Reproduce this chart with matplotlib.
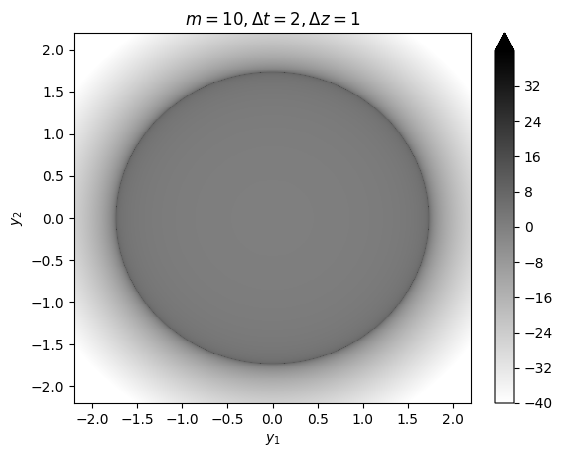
import numpy as np
import matplotlib
matplotlib.use('Agg')
import matplotlib.pyplot as plt

# parametros del titulo
m = 10
dt = 2
dz = 1

y_lim = 2.2
n_grid = 401
z_min = -40
z_max = 40
cbar_ticks = [-40, -32, -24, -16, -8, 0, 8, 16, 24, 32]
axis_ticks = [-2.0, -1.5, -1.0, -0.5, 0.0, 0.5, 1.0, 1.5, 2.0]


# pesos de la regla del trapecio
def trapz_weights(t):
    w = np.full(t.size, t[1] - t[0])
    w[0] *= 0.5
    w[-1] *= 0.5
    return w


# K_1(x) por su representacion integral
def bessel_k1(x):
    t = np.linspace(0, 14, 561)
    out = np.zeros_like(x)
    for ti, wi in zip(t, trapz_weights(t)):
        out += wi * np.cosh(ti) * np.exp(-x * np.cosh(ti))
    return out


# |H_1(x)|^2 = J_1^2 + Y_1^2
def hankel1_abs2(x):
    th = np.linspace(0, np.pi, 121)
    j1 = np.zeros_like(x)
    ya = np.zeros_like(x)
    for ti, wi in zip(th, trapz_weights(th)):
        j1 += wi * np.cos(ti - x * np.sin(ti))
        ya += wi * np.sin(x * np.sin(ti) - ti)
    t = np.linspace(0, 16, 641)
    yb = np.zeros_like(x)
    for ti, wi in zip(t, trapz_weights(t)):
        yb += wi * 2 * np.sinh(ti) * np.exp(-x * np.sinh(ti))
    j1 /= np.pi
    y1 = (ya - yb) / np.pi
    return j1 ** 2 + y1 ** 2


grid = np.linspace(-y_lim, y_lim, n_grid)
G1, G2 = np.meshgrid(grid, grid)
sigma = dt ** 2 - dz ** 2 - G1 ** 2 - G2 ** 2
s = np.sqrt(np.abs(sigma))
Z = np.empty_like(sigma)
inside = sigma > 0
Z[inside] = np.log(m ** 2 * hankel1_abs2(m * s[inside]) / s[inside] ** 2)
Z[~inside] = np.log(m ** 2 * bessel_k1(m * s[~inside]) ** 2 / s[~inside] ** 2)

fig = plt.figure(figsize=(5.63, 4.57), dpi=100)
ax = fig.add_axes([74 / 563, 54 / 457, 397 / 563, 370 / 457])
cax = fig.add_axes([495 / 563, 54 / 457, 19 / 563, 370 / 457])

mesh = ax.pcolormesh(G1, G2, Z, cmap='gray_r', vmin=z_min, vmax=z_max, shading='auto')
ax.set_xlim(-y_lim, y_lim)
ax.set_ylim(-y_lim, y_lim)
ax.set_xticks(axis_ticks)
ax.set_yticks(axis_ticks)
ax.set_xlabel('$y_1$')
ax.set_ylabel('$y_2$')
ax.set_title(r'$m=10, \Delta t=2, \Delta z=1$')

cb = fig.colorbar(mesh, cax=cax, extend='max')
cb.set_ticks(cbar_ticks)

fig.savefig('out.png', dpi=100)
